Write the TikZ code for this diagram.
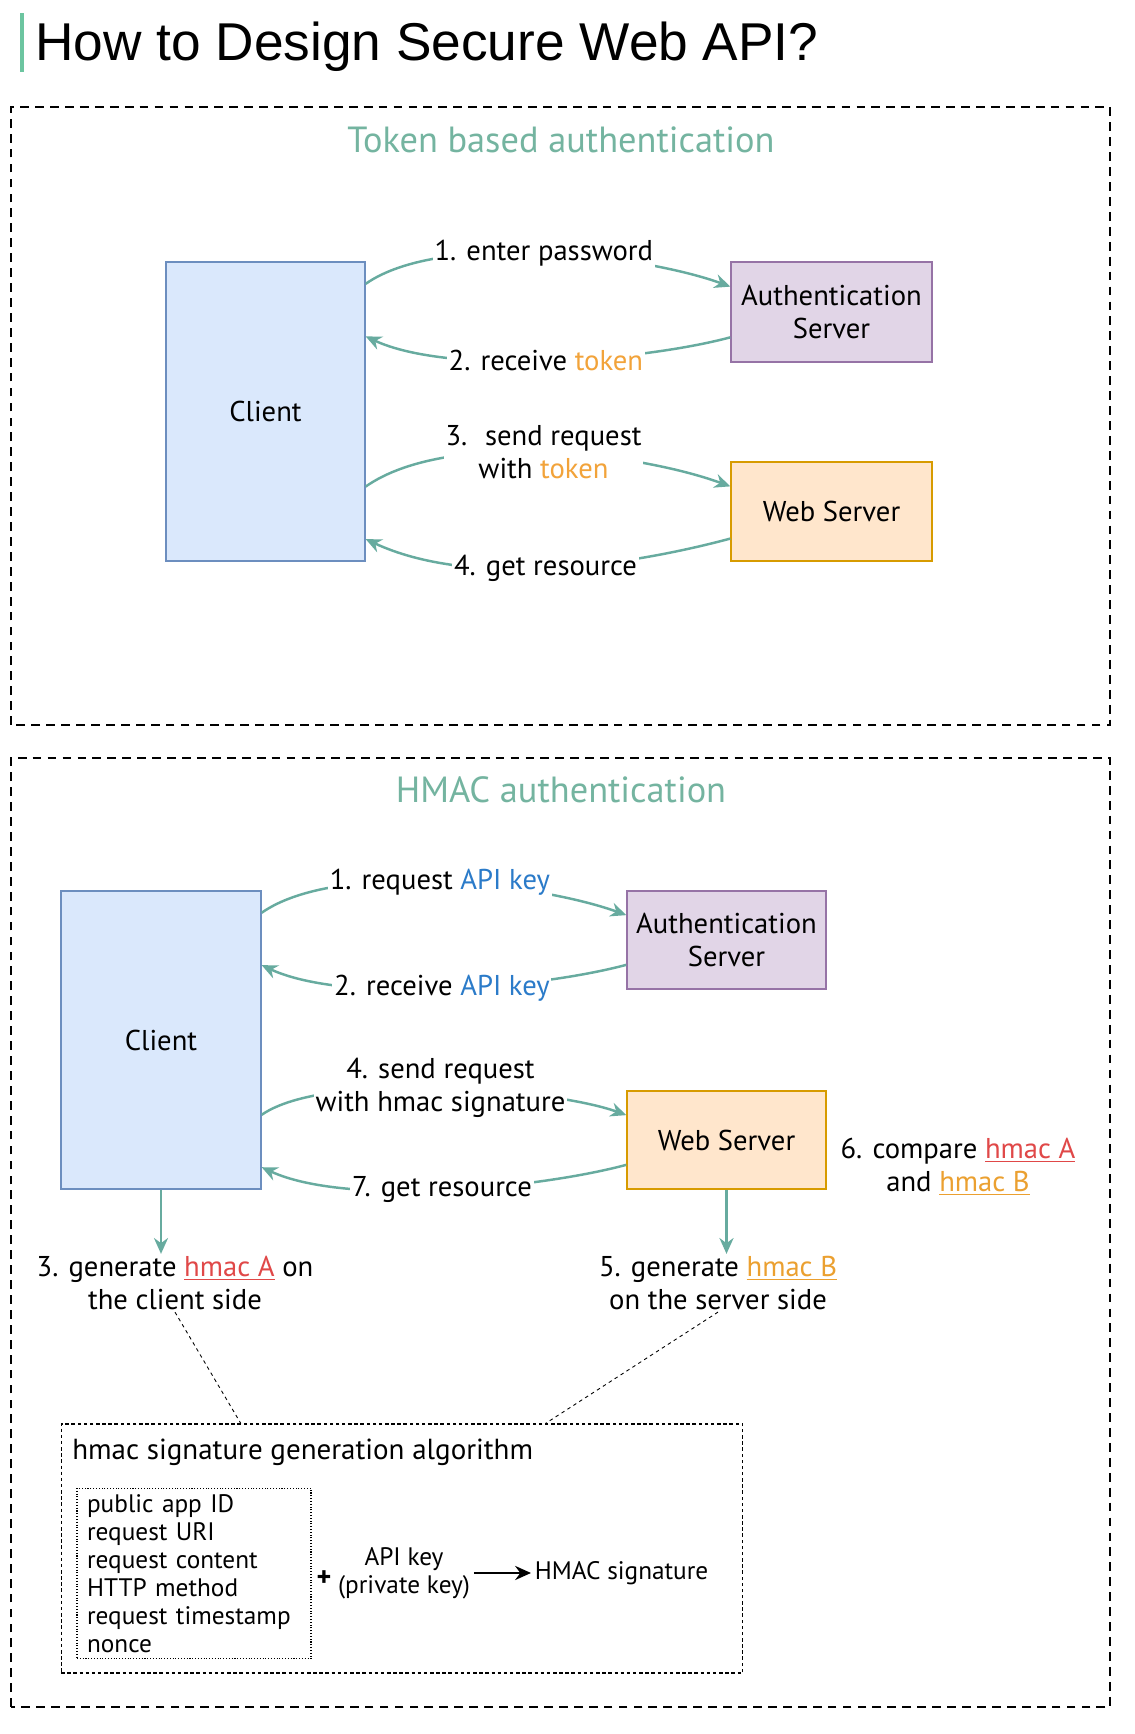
\documentclass[tikz,border=0pt]{standalone}
\usepackage{fontspec}
\setmainfont{PT Sans}
\newfontfamily\titlefont{Liberation Sans}
\usetikzlibrary{arrows.meta,calc}
\definecolor{flowc}{HTML}{67AB9F}
\definecolor{barc}{HTML}{6CC5A0}
\definecolor{sectc}{HTML}{74B4A0}
\definecolor{tokc}{HTML}{F2A33A}
\definecolor{keyc}{HTML}{2B7BC9}
\definecolor{hac}{HTML}{E04848}
\definecolor{hbc}{HTML}{EBA030}
\newcommand\lblfont{\fontsize{16.3}{19}\selectfont}
\newcommand\sectfont{\fontsize{20.7}{24}\selectfont}
\newcommand\algfont{\fontsize{14.4}{16}\selectfont}
\newcommand\tok{\textcolor{tokc}{token}}
\newcommand\apikey{\textcolor{keyc}{API key}}
\newcommand\hA{\textcolor{hac}{\underline{hmac A}}}
\newcommand\hB{\textcolor{hbc}{\underline{hmac B}}}

\begin{document}
\begin{tikzpicture}[x=0.02cm,y=0.02cm,
  box/.style={draw,line width=0.8pt,align=center,font=\lblfont,inner sep=2pt},
  client/.style={box,fill={rgb,255:red,218;green,232;blue,252},draw={rgb,255:red,108;green,142;blue,191}},
  auth/.style={box,fill={rgb,255:red,225;green,213;blue,231},draw={rgb,255:red,150;green,115;blue,166}},
  web/.style={box,fill={rgb,255:red,255;green,230;blue,204},draw={rgb,255:red,215;green,155;blue,0}},
  frame/.style={line width=1.3pt,dash pattern=on 5pt off 3.5pt},
  sect/.style={font=\sectfont,text=sectc},
  lbl/.style={font=\lblfont,align=center,fill=white,inner sep=1pt},
  flow/.style={draw=flowc,line width=1.4pt,-{Stealth[length=9pt,width=8pt]}},
  link/.style={line width=0.5pt,dash pattern=on 2pt off 2pt},
  algbox/.style={draw,line width=0.6pt,dash pattern=on 2pt off 1.5pt},
  inbox/.style={draw,line width=0.6pt,densely dotted,font=\algfont,align=left,inner xsep=0.2cm}]
\useasboundingbox (0,0) rectangle (1134,1734);
\fill[white] (0,0) rectangle (1134,1734);

\draw[barc,line width=2.5pt] (22,1662) -- (22,1721);
\node[anchor=base west,inner sep=0,font=\titlefont\fontsize{30.3}{36}\selectfont] (title) at (35,1673) {How to Design Secure Web API?};

% token based
\draw[frame] (11,1009) rectangle (1110,1627);
\node[sect] (toktitle) at (561,1594) {Token based authentication};
\node[client,minimum width=3.98cm,minimum height=5.98cm] (cl1) at (265.5,1322.5) {Client};
\node[auth,minimum width=4.02cm,minimum height=2cm] (as1) at (831.5,1422) {Authentication\\Server};
\node[web,minimum width=4.02cm,minimum height=1.98cm] (ws1) at (831.5,1222.5) {Web Server};

\draw[flow] ($(cl1.north east)!.075!(cl1.south east)$) to[out=35,in=160,looseness=.65]
  node[lbl] {1. enter password} ($(as1.north west)!.25!(as1.south west)$);
\draw[flow] ($(as1.north west)!.75!(as1.south west)$) to[out=195,in=-25,looseness=.65]
  node[lbl] {2. receive \tok} ($(cl1.north east)!.25!(cl1.south east)$);
\draw[flow] ($(cl1.north east)!.75!(cl1.south east)$) to[out=35,in=160,looseness=.7]
  node[lbl] {3.~ send request\\with \tok} ($(ws1.north west)!.25!(ws1.south west)$);
\draw[flow] ($(ws1.north west)!.77!(ws1.south west)$) to[out=195,in=-25,looseness=.8]
  node[lbl] {4. get resource} ($(cl1.north east)!.925!(cl1.south east)$);

% hmac
\draw[frame] (11,27) rectangle (1110,976);
\node[sect] (hmtitle) at (561,944) {HMAC authentication};
\node[client,minimum width=4cm,minimum height=5.96cm] (cl2) at (161,694) {Client};
\node[auth,minimum width=3.98cm,minimum height=1.96cm] (as2) at (726.5,794) {Authentication\\Server};
\node[web,minimum width=3.98cm,minimum height=1.96cm] (ws2) at (726.5,594) {Web Server};

\draw[flow] ($(cl2.north east)!.075!(cl2.south east)$) to[out=35,in=160,looseness=.65]
  node[lbl] {1. request \apikey} ($(as2.north west)!.25!(as2.south west)$);
\draw[flow] ($(as2.north west)!.75!(as2.south west)$) to[out=195,in=-25,looseness=.65]
  node[lbl] {2. receive \apikey} ($(cl2.north east)!.25!(cl2.south east)$);
\draw[flow] ($(cl2.north east)!.75!(cl2.south east)$) to[out=35,in=160,looseness=.55]
  node[lbl] {4. send request\\with hmac signature} ($(ws2.north west)!.25!(ws2.south west)$);
\draw[flow] ($(ws2.north west)!.75!(ws2.south west)$) to[out=195,in=-25,looseness=.65]
  node[lbl] {7. get resource} ($(cl2.north east)!.925!(cl2.south east)$);

\node[lbl] (gen3) at (175,451) {3. generate \hA{} on\\the client side};
\node[lbl] (gen5) at (718,451) {5. generate \hB\\on the server side};
\node[lbl] (cmp6) at (958,567) {6. compare \hA\\and \hB};
\draw[flow] (cl2.south) -- (cl2.south |- gen3.north);
\draw[flow] (ws2.south) -- (ws2.south |- gen5.north);

% algorithm
\node[algbox,minimum width=13.64cm,minimum height=4.98cm] (alg) at (402,185.5) {};
\node[anchor=west,font=\fontsize{16.5}{19}\selectfont,inner sep=0] (algtitle) at (72,282) {hmac signature generation algorithm};
\node[inbox,minimum width=4.68cm,minimum height=3.34cm,text width=4.28cm] (fields) at (194,160.5)
  {public app ID\\request URI\\request content\\HTTP method\\request timestamp\\nonce};
\node[font=\fontsize{16}{18}\selectfont\bfseries,inner sep=0] (plus) at (324,155) {+};
\node[font=\algfont,align=center,inner sep=2pt] (key) at (404,161) {API key\\(private key)};
\node[font=\algfont,anchor=west,inner sep=2pt] (sig) at (531,161) {HMAC signature};
\draw[line width=1.7pt,-{Stealth[length=9pt,width=8pt]}] (key) -- (sig);
\draw[link] (gen3.south) -- ($(alg.north west)!.264!(alg.north east)$);
\draw[link] (gen5.south) -- ($(alg.north west)!.71!(alg.north east)$);
\end{tikzpicture}
\end{document}
